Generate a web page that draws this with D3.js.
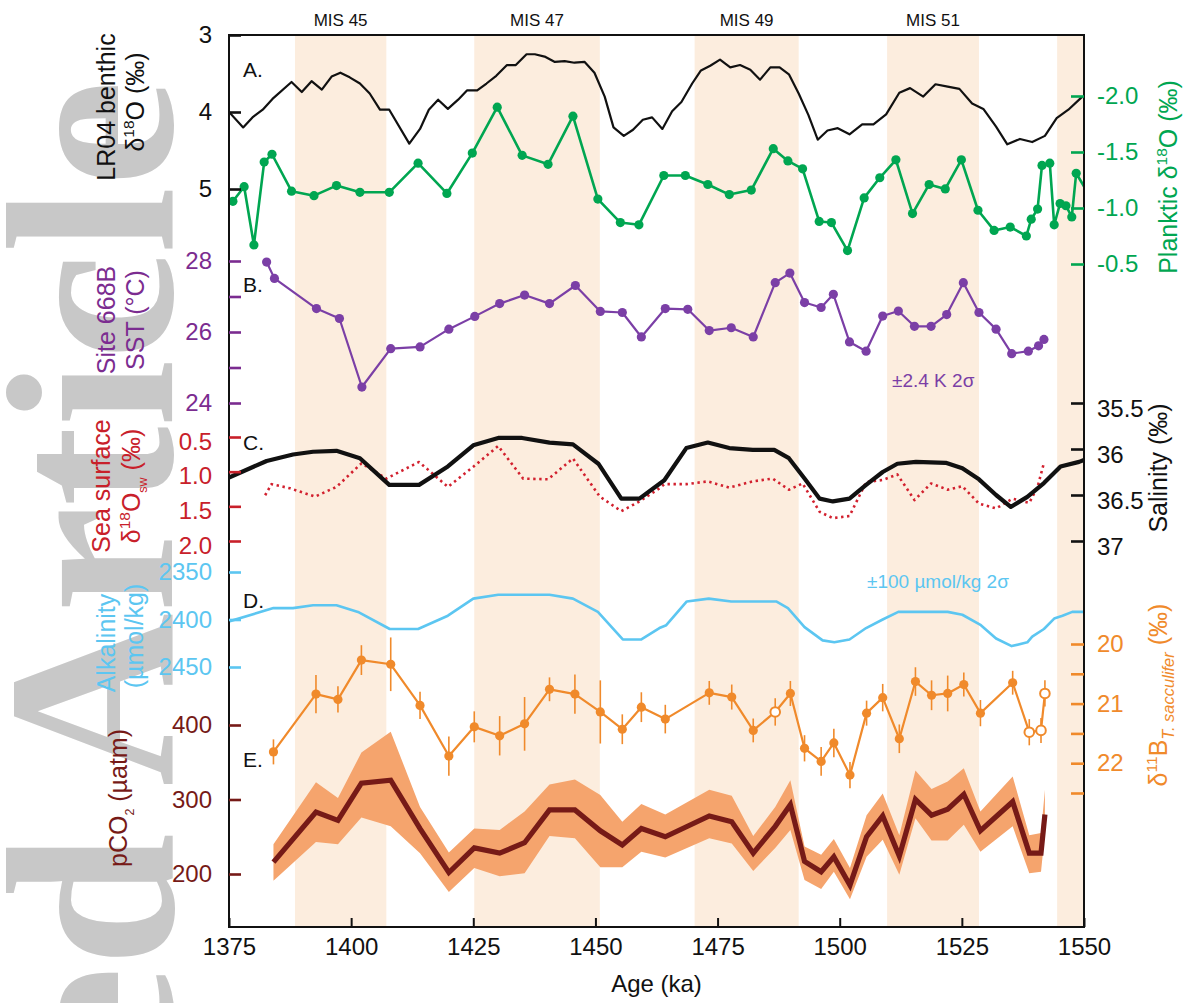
<!DOCTYPE html>
<html>
<head>
<meta charset="utf-8">
<title>Proxy records 1375–1550 ka</title>
<script src="https://cdn.jsdelivr.net/npm/d3@7/dist/d3.min.js"></script>
<style>
  html, body { margin: 0; padding: 0; background: #fff; }
  svg text { font-family: "Liberation Sans", Arial, Helvetica, sans-serif; }
</style>
</head>
<body>
<svg id="chart" width="1187" height="1003"></svg>
<script>
// ---------------- data ----------------
const ageDomain = [1375, 1550];
const ageTicks = [1375, 1400, 1425, 1450, 1475, 1500, 1525, 1550];

// interglacial (odd MIS) intervals, ka
const misStart = [1388.5, 1425.2, 1470.3, 1509.7, 1544.5];
const misEnd   = [1407.2, 1450.9, 1491.6, 1528.5, 1550.0];
const misNames = ["MIS 45", "MIS 47", "MIS 49", "MIS 51"];

// A. LR04 benthic stack δ18O (‰)
const lr04Age = [1375.0,1377.9,1379.8,1381.9,1383.9,1387.8,1389.9,1391.9,1394.0,1396.0,1397.8,1399.7,1401.8,1403.8,1405.9,1407.8,1411.9,1414.1,1415.9,1417.8,1419.8,1421.9,1423.7,1425.8,1427.7,1429.7,1431.9,1433.7,1435.9,1437.6,1439.6,1441.7,1443.7,1445.7,1447.8,1449.8,1451.9,1453.7,1455.8,1457.7,1459.7,1461.6,1463.7,1465.7,1467.6,1469.8,1471.6,1473.5,1475.5,1477.6,1479.6,1481.7,1483.7,1485.8,1487.7,1489.6,1491.6,1493.6,1495.5,1497.5,1499.6,1502.0,1504.6,1506.9,1509.5,1512.2,1514.4,1517.1,1519.6,1522.1,1524.5,1527.1,1529.4,1532.0,1534.3,1536.9,1539.4,1542.0,1544.4,1546.8,1549.5];
const lr04Val = [4.00,4.20,4.07,3.97,3.83,3.61,3.74,3.60,3.71,3.54,3.49,3.55,3.63,3.76,3.97,3.97,4.41,4.22,3.97,3.84,3.96,3.84,3.72,3.72,3.63,3.53,3.39,3.39,3.25,3.25,3.28,3.35,3.34,3.36,3.35,3.49,3.80,4.20,4.31,4.23,4.10,4.07,4.22,3.99,3.87,3.63,3.46,3.40,3.32,3.42,3.39,3.45,3.58,3.42,3.42,3.51,3.76,4.04,4.36,4.24,4.21,4.29,4.16,4.16,4.03,3.75,3.69,3.80,3.64,3.67,3.70,3.89,3.96,4.19,4.42,4.35,4.39,4.31,4.08,3.97,3.81];

// A. planktic δ18O (‰)
const plankAge = [1375.8,1378.1,1380.1,1382.2,1383.8,1387.8,1392.4,1397.0,1401.8,1407.8,1413.7,1419.6,1424.8,1429.9,1435.0,1440.3,1445.4,1450.5,1455.1,1458.9,1464.0,1468.4,1473.0,1477.4,1481.9,1486.4,1489.4,1492.4,1495.8,1498.3,1501.6,1505.0,1508.2,1511.5,1514.9,1518.3,1521.6,1524.9,1528.3,1531.6,1534.9,1538.2,1539.2,1540.5,1541.4,1543.0,1543.9,1545.1,1546.3,1547.5,1548.4,1551.0];
const plankVal = [-1.06,-1.19,-0.67,-1.41,-1.48,-1.15,-1.11,-1.20,-1.14,-1.14,-1.40,-1.13,-1.49,-1.90,-1.47,-1.39,-1.82,-1.08,-0.87,-0.85,-1.29,-1.29,-1.21,-1.12,-1.16,-1.53,-1.42,-1.35,-0.88,-0.87,-0.62,-1.09,-1.27,-1.43,-0.95,-1.21,-1.17,-1.43,-0.98,-0.80,-0.83,-0.75,-0.90,-0.99,-1.38,-1.40,-0.85,-1.04,-1.02,-0.92,-1.31,-1.12];

// B. Site 668B SST (°C)
const sstAge = [1382.7,1384.3,1392.9,1397.6,1402.2,1408.1,1414.1,1420.0,1425.3,1430.4,1435.5,1440.6,1445.9,1451.0,1455.5,1459.4,1464.3,1468.9,1473.3,1477.8,1482.3,1486.8,1489.8,1492.8,1496.2,1498.7,1502.0,1505.4,1508.8,1512.0,1515.3,1518.7,1521.9,1525.3,1528.5,1532.0,1535.2,1538.6,1540.7,1541.8];
const sstVal = [27.97,27.51,26.66,26.38,24.45,25.53,25.58,26.08,26.44,26.80,27.04,26.80,27.31,26.58,26.55,25.86,26.66,26.64,26.04,26.12,25.86,27.39,27.66,26.83,26.69,27.06,25.72,25.46,26.45,26.59,26.16,26.16,26.49,27.39,26.55,26.08,25.39,25.46,25.61,25.79];

// C. salinity (‰)
const salAge = [1375.0,1382.7,1388.1,1392.2,1397.0,1401.8,1407.8,1413.9,1419.8,1425.0,1430.1,1435.0,1440.6,1445.4,1450.6,1455.3,1459.0,1464.1,1468.6,1473.0,1477.4,1482.2,1486.6,1489.6,1492.8,1495.9,1498.6,1502.0,1505.4,1508.8,1511.8,1515.6,1521.7,1525.1,1528.5,1532.0,1535.0,1538.4,1541.8,1545.2,1549.0,1550.0];
const salVal = [36.31,36.13,36.06,36.03,36.02,36.10,36.39,36.39,36.19,35.96,35.88,35.88,35.93,35.95,36.16,36.54,36.54,36.34,35.99,35.93,35.99,36.01,36.01,36.10,36.32,36.54,36.57,36.54,36.39,36.25,36.16,36.14,36.15,36.21,36.33,36.50,36.63,36.52,36.37,36.19,36.14,36.12];

// C. sea-surface δ18Osw (‰)
const swAge = [1382.4,1383.7,1387.5,1392.6,1397.0,1402.1,1407.2,1413.9,1419.8,1425.0,1430.1,1435.2,1440.3,1445.4,1450.9,1455.3,1459.0,1463.1,1464.1,1468.6,1473.0,1477.4,1482.2,1486.3,1489.6,1492.4,1495.9,1498.6,1502.0,1505.4,1508.8,1511.8,1515.3,1518.7,1522.1,1525.1,1528.5,1532.0,1535.4,1538.8,1540.5,1541.7];
const swVal = [1.34,1.18,1.24,1.36,1.22,0.88,1.10,0.86,1.22,0.93,0.63,1.10,1.11,0.81,1.36,1.57,1.43,1.24,1.18,1.18,1.14,1.23,1.14,1.10,1.26,1.17,1.58,1.67,1.64,1.15,1.12,1.04,1.41,1.17,1.26,1.21,1.46,1.53,1.39,1.45,1.22,0.90];

// D. alkalinity (µmol/kg)
const alkAge = [1375.0,1384.1,1388.1,1392.2,1397.0,1401.4,1407.9,1413.7,1419.8,1425.0,1430.1,1435.2,1440.6,1445.4,1450.5,1455.6,1459.4,1463.1,1464.5,1468.7,1473.2,1477.8,1487.0,1489.4,1492.8,1496.5,1498.9,1502.0,1505.4,1508.8,1512.0,1522.1,1525.1,1528.9,1532.0,1535.2,1538.4,1539.4,1541.8,1543.9,1545.6,1547.6,1549.3,1550.0];
const alkVal = [2402,2388,2388,2385,2385,2392,2410,2410,2396,2378,2374,2374,2374,2378,2392,2421,2421,2409,2406,2381,2378,2381,2381,2388,2408,2422,2424,2421,2409,2400,2392,2392,2395,2406,2420,2428,2424,2418,2410,2399,2396,2392,2392,2392];

// D/E. δ11B of T. sacculifer (‰) with 2σ error, and derived pCO2 (µatm)
const boronAge = [1384.1,1392.8,1397.3,1402.1,1408.1,1414.1,1420.0,1425.2,1430.4,1435.5,1440.6,1445.8,1451.0,1455.5,1459.4,1464.3,1473.3,1477.9,1482.3,1486.8,1489.9,1492.8,1496.2,1498.8,1502.1,1505.5,1508.8,1512.2,1515.5,1518.8,1522.1,1525.4,1528.8,1535.4,1538.8,1541.2,1542.0];
const boronVal = [21.81,20.84,20.93,20.27,20.34,21.03,21.88,21.39,21.54,21.34,20.76,20.84,21.14,21.43,21.06,21.26,20.82,20.89,21.45,21.14,20.83,21.75,21.97,21.66,22.20,21.16,20.90,21.59,20.63,20.86,20.83,20.68,21.16,20.65,21.48,21.45,20.83];
const boronErr = [0.21,0.32,0.22,0.25,0.45,0.23,0.33,0.26,0.33,0.45,0.20,0.33,0.53,0.25,0.25,0.24,0.20,0.21,0.20,0.23,0.21,0.22,0.24,0.24,0.22,0.21,0.23,0.24,0.24,0.25,0.30,0.20,0.22,0.20,0.22,0.21,0.22];
const boronOpen = [0,0,0,0,0,0,0,0,0,0,0,0,0,0,0,0,0,0,0,1,0,0,0,0,0,0,0,0,0,0,0,0,0,0,1,1,1];
const pco2Mid = [216,283,272,322,326,261,202,235,228,242,286,286,258,239,261,250,278,270,228,264,293,217,203,223,185,250,278,224,300,279,287,307,258,297,228,228,280];
const pco2Hi  = [240,323,302,363,391,290,229,261,259,284,320,327,306,270,294,280,313,305,251,290,326,237,226,247,208,279,308,252,339,314,324,342,284,331,252,255,313];
const pco2Lo  = [191,243,240,276,264,228,176,208,197,201,251,248,209,209,230,222,248,241,204,235,259,192,180,203,166,223,246,199,275,245,245,266,230,264,201,203,255];

// ---------------- layout ----------------
const svg = d3.select("#chart");
const L = 229, R = 1084, T = 35, B = 927;
const FONT = '"Liberation Sans", Arial, Helvetica, sans-serif';

const col = {
  lr04: "#111111", plank: "#00a651", sst: "#7b3fa6", sstAxis: "#7b2c90",
  sw: "#d2202e", swAxis: "#c8202a", sal: "#111111", alk: "#5cc6f1",
  boron: "#f08a2b", pco2: "#761a17", band: "#f5a46d", mis: "#fcedde"
};

const x = d3.scaleLinear().domain(ageDomain).range([L, R]);
const yLR04  = d3.scaleLinear().domain([3, 5]).range([35, 189]);
const yPlank = d3.scaleLinear().domain([-2.0, -0.5]).range([96, 264]);
const ySST   = d3.scaleLinear().domain([24, 28]).range([403, 261]);
const ySW    = d3.scaleLinear().domain([0.5, 2.0]).range([437, 541]);
const ySal   = d3.scaleLinear().domain([35.5, 37]).range([403, 541]);
const yAlk   = d3.scaleLinear().domain([2350, 2450]).range([572, 667]);
const yBoron = d3.scaleLinear().domain([20, 22.5]).range([644, 793]);
const yPco2  = d3.scaleLinear().domain([200, 400]).range([874, 725]);

// ---------------- watermark ----------------
svg.append("text")
  .attr("transform", "translate(172,80) rotate(-90)")
  .attr("text-anchor", "end")
  .style("font-family", '"Liberation Serif", "Times New Roman", serif')
  .attr("font-weight", "bold")
  .attr("font-size", 240)
  .attr("fill", "#c8c8c8")
  .text("Accepted Article");

// ---------------- clip ----------------
svg.append("defs").append("clipPath").attr("id", "plotClip")
  .append("rect").attr("x", L).attr("y", T).attr("width", R - L).attr("height", B - T);
const plot = svg.append("g").attr("clip-path", "url(#plotClip)");

// MIS shading
plot.selectAll("rect.mis").data(misStart.map((s, i) => [s, misEnd[i]]))
  .join("rect").attr("class", "mis")
  .attr("x", d => x(d[0])).attr("width", d => x(d[1]) - x(d[0]))
  .attr("y", T).attr("height", B - T).attr("fill", col.mis);

svg.selectAll("text.misLabel").data(misNames)
  .join("text").attr("class", "misLabel")
  .attr("x", (d, i) => x((misStart[i] + misEnd[i]) / 2))
  .attr("y", 26).attr("text-anchor", "middle")
  .attr("font-size", 17).attr("fill", "#111").text(d => d);

const zip = (a, b) => a.map((v, i) => [v, b[i]]);
function drawLine(ages, vals, yS, color, width, extra) {
  const p = plot.append("path")
    .datum(zip(ages, vals))
    .attr("fill", "none").attr("stroke", color).attr("stroke-width", width)
    .attr("stroke-linejoin", "round").attr("stroke-linecap", "round")
    .attr("d", d3.line().x(d => x(d[0])).y(d => yS(d[1])));
  if (extra) extra(p);
  return p;
}
function drawDots(ages, vals, yS, color, r) {
  plot.append("g").selectAll("circle").data(zip(ages, vals)).join("circle")
    .attr("cx", d => x(d[0])).attr("cy", d => yS(d[1])).attr("r", r).attr("fill", color);
}

// A
drawLine(lr04Age, lr04Val, yLR04, col.lr04, 2.2);
drawLine(plankAge, plankVal, yPlank, col.plank, 2.6);
drawDots(plankAge, plankVal, yPlank, col.plank, 4.6);

// B
drawLine(sstAge, sstVal, ySST, col.sst, 2.2);
drawDots(sstAge, sstVal, ySST, col.sst, 4.6);

// C
drawLine(swAge, swVal, ySW, col.sw, 2.6, p => p.attr("stroke-dasharray", "2.4 3.6").attr("stroke-linecap", "butt"));
drawLine(salAge, salVal, ySal, col.sal, 4.2);

// D
drawLine(alkAge, alkVal, yAlk, col.alk, 2.6);

// E: pCO2 envelope and central estimate
const pco2Rows = boronAge.map((a, i) => ({ a, mid: pco2Mid[i], hi: pco2Hi[i], lo: pco2Lo[i] }));
plot.append("path").datum(pco2Rows)
  .attr("fill", col.band)
  .attr("d", d3.area().x(d => x(d.a)).y0(d => yPco2(d.lo)).y1(d => yPco2(d.hi)));
plot.append("path").datum(pco2Rows)
  .attr("fill", "none").attr("stroke", col.pco2).attr("stroke-width", 5.2)
  .attr("stroke-linejoin", "miter").attr("stroke-linecap", "butt")
  .attr("d", d3.line().x(d => x(d.a)).y(d => yPco2(d.mid)));

// δ11B with error bars
const bRows = boronAge.map((a, i) => ({ a, v: boronVal[i], e: boronErr[i], open: boronOpen[i] }));
plot.append("g").selectAll("line").data(bRows).join("line")
  .attr("x1", d => x(d.a)).attr("x2", d => x(d.a))
  .attr("y1", d => yBoron(d.v - d.e)).attr("y2", d => yBoron(d.v + d.e))
  .attr("stroke", col.boron).attr("stroke-width", 1.6);
plot.append("path").datum(bRows)
  .attr("fill", "none").attr("stroke", col.boron).attr("stroke-width", 2.2)
  .attr("stroke-linejoin", "round")
  .attr("d", d3.line().x(d => x(d.a)).y(d => yBoron(d.v)));
plot.append("g").selectAll("circle").data(bRows).join("circle")
  .attr("cx", d => x(d.a)).attr("cy", d => yBoron(d.v))
  .attr("r", d => d.open ? 4.8 : 4.6)
  .attr("fill", d => d.open ? "#fff" : col.boron)
  .attr("stroke", d => d.open ? col.boron : "none")
  .attr("stroke-width", 2);

// ---------------- frame ----------------
svg.append("rect").attr("x", L).attr("y", T).attr("width", R - L).attr("height", B - T)
  .attr("fill", "none").attr("stroke", "#111").attr("stroke-width", 2);

// ---------------- axes ----------------
function styleAxis(g, color, size, dy) {
  g.attr("font-size", null).attr("font-family", null);
  g.select(".domain").remove();
  g.selectAll(".tick line").attr("stroke", color).attr("stroke-width", 2.6);
  g.selectAll(".tick text").attr("fill", color).attr("font-size", size || 24)
    .style("font-family", FONT);
  if (dy) g.selectAll(".tick text").attr("dy", dy);
}
function leftAxis(scale, values, fmt, color, dy) {
  const g = svg.append("g").attr("transform", `translate(${L},0)`)
    .call(d3.axisLeft(scale).tickValues(values).tickFormat(fmt)
      .tickSizeInner(-12).tickSizeOuter(0).tickPadding(17));
  styleAxis(g, color, 24, dy);
}
function rightAxis(scale, values, fmt, color, dy) {
  const g = svg.append("g").attr("transform", `translate(${R},0)`)
    .call(d3.axisRight(scale).tickValues(values).tickFormat(fmt)
      .tickSizeInner(-13).tickSizeOuter(0).tickPadding(13));
  styleAxis(g, color, 24, dy);
}

leftAxis(yLR04, [3, 4, 5], d => d, "#111");
leftAxis(ySST, [24, 25, 26, 27, 28], d => d % 2 === 0 ? d : "", col.sstAxis);
leftAxis(ySW, [0.5, 1.0, 1.5, 2.0], d => d.toFixed(1), col.swAxis, "0.5em");
leftAxis(yAlk, [2350, 2400, 2450], d => d, col.alk);
leftAxis(yPco2, [200, 300, 400], d => d, col.pco2);

rightAxis(yPlank, [-2.0, -1.5, -1.0, -0.5], d => "-" + Math.abs(d).toFixed(1), col.plank);
rightAxis(ySal, [35.5, 36, 36.5, 37], d => d % 1 === 0 ? d : d.toFixed(1), "#111", "0.55em");
rightAxis(yBoron, [20, 20.5, 21, 21.5, 22, 22.5], d => d % 1 === 0 ? d : "", col.boron);

const gx = svg.append("g").attr("transform", `translate(0,${B})`)
  .call(d3.axisBottom(x).tickValues(ageTicks).tickFormat(d => d)
    .tickSizeInner(-9).tickSizeOuter(0).tickPadding(11));
styleAxis(gx, "#111", 24);
gx.selectAll(".tick line").attr("stroke-width", 2);

svg.append("text").attr("x", (L + R) / 2).attr("y", 992).attr("text-anchor", "middle")
  .attr("font-size", 24).attr("fill", "#111").text("Age (ka)");

// ---------------- axis titles ----------------
function richText(t, parts, size) {
  let shift = 0;
  parts.forEach(p => {
    const ts = t.append("tspan").text(p.t);
    let s = 0;
    if (p.sup) { ts.attr("font-size", size * 0.62); s = -size * 0.4; }
    if (p.sub) { ts.attr("font-size", size * (p.scale || 0.58)); s = size * 0.26; }
    if (p.italic) ts.attr("font-style", "italic");
    if (s !== shift) ts.attr("dy", s - shift);
    shift = s;
  });
}
function vTitle(xPos, yPos, parts, color, size) {
  const t = svg.append("text")
    .attr("transform", `translate(${xPos},${yPos}) rotate(-90)`)
    .attr("text-anchor", "middle").attr("fill", color).attr("font-size", size || 25);
  richText(t, parts, size || 25);
}

vTitle(115, 107, [{ t: "LR04 benthic" }], "#111");
vTitle(144, 102, [{ t: "δ" }, { t: "18", sup: true }, { t: "O (‰)" }], "#111");
vTitle(115, 320, [{ t: "Site 668B" }], col.sstAxis);
vTitle(144, 320, [{ t: "SST (°C)" }], col.sstAxis);
vTitle(110, 486, [{ t: "Sea surface" }], col.swAxis);
vTitle(140, 486, [{ t: "δ" }, { t: "18", sup: true }, { t: "O" }, { t: "sw", sub: true, scale: 0.5 }, { t: "  (‰)" }], col.swAxis);
vTitle(115, 643, [{ t: "Alkalinity" }], col.alk);
vTitle(143, 636, [{ t: "(µmol/kg)" }], col.alk);
vTitle(127, 798, [{ t: "pCO" }, { t: "2", sub: true, scale: 0.5 }, { t: "  (µatm)" }], col.pco2);

vTitle(1177, 177, [{ t: "Planktic δ" }, { t: "18", sup: true }, { t: "O (‰)" }], col.plank);
vTitle(1167, 468, [{ t: "Salinity (‰)" }], "#111");
vTitle(1167, 695, [{ t: "δ" }, { t: "11", sup: true }, { t: "B" }, { t: "T. sacculifer", sub: true, italic: true, scale: 0.66 }, { t: " (‰)" }], col.boron);

// ---------------- panel letters and notes ----------------
const panelLetters = [["A.", 77], ["B.", 292], ["C.", 450], ["D.", 608], ["E.", 767]];
svg.selectAll("text.panel").data(panelLetters).join("text").attr("class", "panel")
  .attr("x", 243).attr("y", d => d[1]).attr("font-size", 21).attr("fill", "#111").text(d => d[0]);

svg.append("text").attr("x", 892).attr("y", 387).attr("font-size", 19)
  .attr("fill", col.sst).text("±2.4 K 2σ");
svg.append("text").attr("x", 867).attr("y", 588).attr("font-size", 19)
  .attr("fill", col.alk).text("±100 µmol/kg 2σ");
</script>
</body>
</html>
